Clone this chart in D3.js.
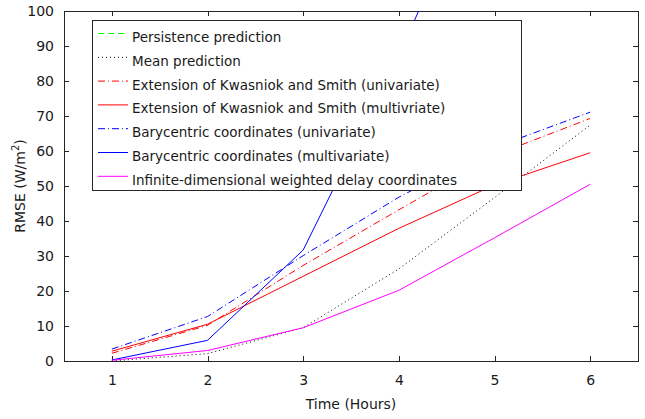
<!DOCTYPE html>
<html>
<head>
<meta charset="utf-8">
<script src="https://cdn.jsdelivr.net/npm/d3@7/dist/d3.min.js"></script>
<style>
  html, body { margin: 0; padding: 0; background: #fff; }
  svg { display: block; }
  text { font-family: "DejaVu Sans", sans-serif; fill: #1a1a1a; }
</style>
</head>
<body>
<svg id="chart" width="645" height="419"></svg>
<script>
// ---- data ----
const hours = [1, 2, 3, 4, 5, 6];
const xTicks = [1, 2, 3, 4, 5, 6];
const yTicks = [0, 10, 20, 30, 40, 50, 60, 70, 80, 90, 100];
const persistence = [];                                   // not visible in the plotted range
const meanPrediction = [0.0, 2.1, 9.5, 26.3, 46.7, 67.4];
const ksUnivariate = [2.2, 10.2, 27.3, 43.2, 58.8, 69.3];
const ksMultivariate = [2.8, 10.5, 24.2, 37.9, 50.3, 59.5];
const baryUnivariate = [3.4, 12.7, 30.1, 46.8, 61.0, 71.1];
const baryMultivariate = [0.3, 5.9, 31.7, 87.0, 150.0, 220.0];
const infiniteDelay = [0.2, 3.0, 9.5, 20.2, 35.2, 50.5];
const seriesNames = [
  "Persistence prediction",
  "Mean prediction",
  "Extension of Kwasniok and Smith (univariate)",
  "Extension of Kwasniok and Smith (multivriate)",
  "Barycentric coordinates (univariate)",
  "Barycentric coordinates (multivariate)",
  "Infinite-dimensional weighted delay coordinates"
];
const seriesValues = [persistence, meanPrediction, ksUnivariate, ksMultivariate,
                      baryUnivariate, baryMultivariate, infiniteDelay];

// ---- styles ----
const styles = [
  { color: "#00ff00", dash: "6,4" },
  { color: "#000000", dash: "1,3" },
  { color: "#ff0000", dash: "7,3,1,3" },
  { color: "#ff0000", dash: null },
  { color: "#0000ff", dash: "7,3,1,3" },
  { color: "#0000ff", dash: null },
  { color: "#ff00ff", dash: null }
];

(function () {
const svg = d3.select("#chart");
const L = 64, R = 638, T = 11, B = 361;
const x = d3.scaleLinear().domain([0.5, 6.5]).range([L, R]);
const y = d3.scaleLinear().domain([0, 100]).range([B, T]);
const axisColor = "#262626";

svg.append("defs").append("clipPath").attr("id", "plotclip")
  .append("rect").attr("x", L).attr("y", T).attr("width", R - L).attr("height", B - T);

svg.append("rect").attr("x", L).attr("y", T).attr("width", R - L).attr("height", B - T)
  .attr("fill", "#fff").attr("stroke", axisColor).attr("stroke-width", 1)
  .attr("shape-rendering", "crispEdges");

const gBottom = svg.append("g").attr("transform", `translate(0,${B})`)
  .call(d3.axisBottom(x).tickValues(xTicks).tickSizeInner(-5).tickSizeOuter(0).tickPadding(14).tickFormat(d3.format("d")));
const gTop = svg.append("g").attr("transform", `translate(0,${T})`)
  .call(d3.axisTop(x).tickValues(xTicks).tickSizeInner(-5).tickSizeOuter(0).tickFormat(""));
const gLeft = svg.append("g").attr("transform", `translate(${L},0)`)
  .call(d3.axisLeft(y).tickValues(yTicks).tickSizeInner(-5).tickSizeOuter(0).tickPadding(10).tickFormat(d3.format("d")));
const gRight = svg.append("g").attr("transform", `translate(${R},0)`)
  .call(d3.axisRight(y).tickValues(yTicks).tickSizeInner(-5).tickSizeOuter(0).tickFormat(""));
[gBottom, gTop, gLeft, gRight].forEach(g => {
  g.select(".domain").remove();
  g.selectAll(".tick line").attr("stroke", axisColor).attr("shape-rendering", "crispEdges");
  g.selectAll("text").attr("font-size", 14).attr("font-family", "DejaVu Sans, sans-serif").attr("fill", "#1a1a1a");
});

const line = d3.line().x((d, i) => x(hours[i])).y(d => y(d));
const plot = svg.append("g").attr("clip-path", "url(#plotclip)");
seriesValues.forEach((vals, k) => {
  if (!vals.length) return;
  plot.append("path").datum(vals)
    .attr("d", line)
    .attr("fill", "none")
    .attr("stroke", styles[k].color)
    .attr("stroke-width", 1)
    .attr("stroke-dasharray", styles[k].dash);
});

svg.append("text").attr("x", (L + R) / 2).attr("y", 409).attr("text-anchor", "middle")
  .attr("font-size", 14).text("Time (Hours)");
const yl = svg.append("text").attr("transform", `translate(25,${(T + B) / 2}) rotate(-90)`)
  .attr("text-anchor", "middle").attr("font-size", 14);
yl.append("tspan").text("RMSE (W/m");
yl.append("tspan").attr("dy", -6).attr("font-size", 10).text("2");
yl.append("tspan").attr("dy", 6).text(")");

const lg = svg.append("g");
const LX0 = 92, LX1 = 521, LY0 = 20, LY1 = 190;
lg.append("rect").attr("x", LX0).attr("y", LY0).attr("width", LX1 - LX0).attr("height", LY1 - LY0)
  .attr("fill", "#fff").attr("stroke", axisColor).attr("stroke-width", 1).attr("shape-rendering", "crispEdges");
seriesNames.forEach((name, k) => {
  const ly = 33.5 + k * 23.8;
  lg.append("line").attr("x1", 98).attr("x2", 128).attr("y1", ly).attr("y2", ly)
    .attr("stroke", styles[k].color).attr("stroke-width", 1).attr("stroke-dasharray", styles[k].dash);
  lg.append("text").attr("x", 132).attr("y", ly + 8.5).attr("font-size", 13.5).text(name);
});
})();
</script>
</body>
</html>
